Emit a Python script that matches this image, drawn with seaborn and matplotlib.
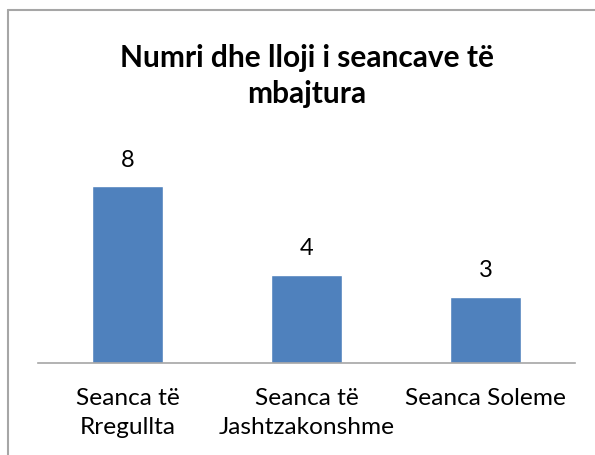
import matplotlib
matplotlib.use("Agg")
import matplotlib.pyplot as plt
import pandas as pd
import seaborn as sns
from matplotlib.lines import Line2D

categories = ["Seanca të\nRregullta", "Seanca të\nJashtzakonshme", "Seanca Soleme"]
values = [8, 4, 3]
title = "Numri dhe lloji i seancave të\nmbajtura"

df = pd.DataFrame({"lloji": categories, "numri": values})

sns.set_theme(style="white")
plt.rcParams['font.family'] = ['Lato', 'DejaVu Sans']
plt.rcParams['text.color'] = 'black'
plt.rcParams['xtick.color'] = 'black'

fig = plt.figure(figsize=(5.95, 4.55), dpi=100)
ax = fig.add_axes([38 / 595, 92 / 455, 537 / 595, 199 / 455])

sns.barplot(data=df, x="lloji", y="numri", color="#4F81BD", width=0.4,
            saturation=1, ax=ax)
ax.set_ylim(0, 9)
ax.set_xlim(-0.5, 2.5)

for i, v in enumerate(values):
    ax.annotate(str(v), (i, v), xytext=(0, 11), textcoords="offset points",
                ha="center", va="bottom", fontsize=17, color="black")

ax.set_xlabel("")
ax.set_ylabel("")
ax.set_yticks([])
for side in ["top", "right", "left"]:
    ax.spines[side].set_visible(False)
ax.spines["bottom"].set_color("#A6A6A6")
ax.spines["bottom"].set_linewidth(1.2)
ax.tick_params(axis="x", length=0, pad=18)
ax.set_xticklabels(categories, fontsize=17.6, linespacing=1.5, color="black")

fig.text(307 / 595, 1 - 76 / 455, title, ha="center", va="center",
         fontsize=21.5, fontweight="bold", linespacing=1.34, color="black")

# frame of the chart box
fig.add_artist(Line2D([8 / 595, 1], [1 - 10 / 455] * 2, color="#A6A6A6", lw=1.5,
                      transform=fig.transFigure))
fig.add_artist(Line2D([8 / 595] * 2, [0, 1 - 10 / 455], color="#A6A6A6", lw=1.5,
                      transform=fig.transFigure))

fig.savefig("out.png", dpi=100)
